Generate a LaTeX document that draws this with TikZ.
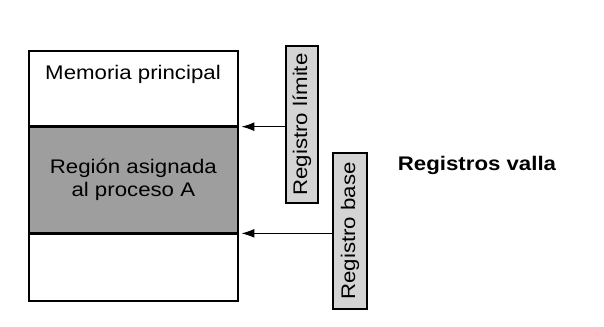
\documentclass[tikz,border=0pt]{standalone}
\usepackage{fontspec}
\setmainfont{Liberation Sans}[FakeStretch=1.13]
\usepackage{xcolor}
\usetikzlibrary{arrows.meta,positioning,calc}
\definecolor{regiongray}{RGB}{158,158,158}
\definecolor{reggray}{RGB}{212,212,212}
\tikzset{
  membox/.style={draw,line width=1.2pt,minimum width=5.225cm,inner sep=0pt},
  regbox/.style={draw,line width=1.2pt,fill=reggray,rotate=90,inner sep=0pt},
  flecha/.style={-{Latex[length=3.2mm,width=2.2mm]},line width=0.7pt,shorten >=2pt},
}

\begin{document}
\begin{tikzpicture}[font=\fontsize{14}{16.5}\selectfont]
\useasboundingbox (0,0) rectangle (15.1,8.175);
% memoria
\node[membox,minimum height=1.875cm,anchor=north west] (mem) at (0.7,6.925) {};
\node[membox,minimum height=2.625cm,fill=regiongray,anchor=north] (reg) at (mem.south) {};
\node[membox,minimum height=1.675cm,anchor=north] (libre) at (reg.south) {};
\node (memtxt) at (3.325,6.325) {Memoria principal};
\node[align=center] (regtxt) at (reg.center) {Regi\'on asignada\\al proceso A};
% registros
\node[regbox,minimum width=3.925cm,minimum height=0.8cm] (lim) at (7.55,5.0625) {Registro l\'imite};
\node[regbox,minimum width=3.9cm,minimum height=0.85cm] (base) at (8.75,2.4) {Registro base};
\draw[flecha] (lim.north |- mem.south) -- (mem.south east);
\draw[flecha] (base.north |- reg.south) -- (reg.south east);
\node[font=\fontsize{14}{16.5}\selectfont\bfseries] (valla) at (11.925,4.05) {Registros valla};
\end{tikzpicture}
\end{document}
